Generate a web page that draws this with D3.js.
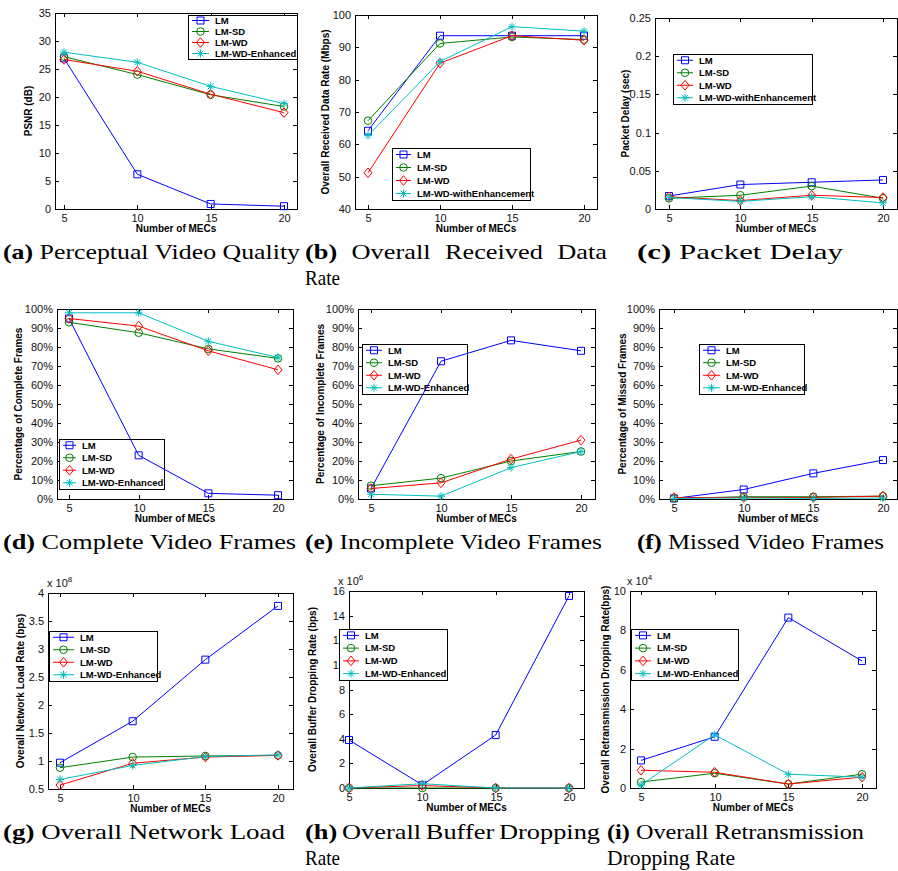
<!DOCTYPE html>
<html>
<head>
<meta charset="utf-8">
<script src="https://cdn.jsdelivr.net/npm/d3@7/dist/d3.min.js"></script>
<style>
  body { margin: 0; background: #fff; }
  text.sans { font-family: "Liberation Sans", Arial, sans-serif; }
  text.cap { font-family: "Liberation Serif", "Times New Roman", serif; }
</style>
</head>
<body>
<svg id="fig" width="898" height="871"></svg>
<script>
// ---- data ----
const mecs = [5, 10, 15, 20];
const namesEnh = ["LM", "LM-SD", "LM-WD", "LM-WD-Enhanced"];
const namesWith = ["LM", "LM-SD", "LM-WD", "LM-WD-withEnhancement"];

// rows: LM, LM-SD, LM-WD, LM-WD-Enhanced
const psnr = [
  [26.9, 6.2, 0.9, 0.5],
  [27.2, 24.0, 20.4, 18.3],
  [26.7, 24.6, 20.5, 17.2],
  [28.0, 26.2, 21.9, 18.8]
];
const recvRate = [
  [64.2, 93.6, 93.6, 93.6],
  [67.3, 91.2, 93.2, 92.4],
  [51.2, 85.1, 93.6, 92.2],
  [62.7, 85.6, 96.4, 95.0]
];
const pktDelay = [
  [0.017, 0.032, 0.035, 0.038],
  [0.014, 0.018, 0.030, 0.014],
  [0.016, 0.011, 0.018, 0.015],
  [0.015, 0.010, 0.016, 0.008]
];
const completePct = [
  [95, 23, 3, 2],
  [93, 87.5, 79, 74],
  [95, 91, 78, 68],
  [98, 98, 83, 74.5]
];
const incompletePct = [
  [5.5, 72.5, 83.5, 78],
  [7, 11, 20, 25],
  [5.5, 8.5, 21, 31],
  [2.5, 1.5, 16.5, 25]
];
const missedPct = [
  [0.3, 5, 13.5, 20.5],
  [0.3, 1.2, 1.2, 1.5],
  [0.8, 0.8, 0.8, 1.5],
  [0.3, 0.5, 0.3, 0.5]
];
const netLoad = [          // x 10^8 bps
  [0.97, 1.71, 2.81, 3.77],
  [0.88, 1.07, 1.09, 1.10],
  [0.57, 0.96, 1.07, 1.10],
  [0.67, 0.92, 1.08, 1.11]
];
const bufDrop = [          // x 10^6 bps
  [3.9, 0.25, 4.3, 15.6],
  [0, 0, 0, 0],
  [0, 0.2, 0, 0],
  [0, 0.35, 0, 0]
];
const retxDrop = [         // x 10^4 bps
  [1.4, 2.6, 8.65, 6.45],
  [0.3, 0.75, 0.2, 0.7],
  [0.9, 0.8, 0.2, 0.55],
  [0.15, 2.7, 0.7, 0.55]
];

const ticksPsnr = d3.range(0, 36, 5);
const ticksRecv = d3.range(40, 101, 10);
const ticksDelay = [0, 0.05, 0.1, 0.15, 0.2, 0.25];
const ticksPct = d3.range(0, 101, 10);
const ticksLoad = [0.5, 1, 1.5, 2, 2.5, 3, 3.5, 4];
const ticksBuf = d3.range(0, 17, 2);
const ticksRetx = d3.range(0, 11, 2);

// ---- styling ----
const colors = ["#0000ff", "#008000", "#ff0000", "#00bfbf"];
const markers = ["square", "circle", "diamond", "asterisk"];
const pct = d => d + "%";
const plain = d => String(d);

const panels = [
  { data: psnr, box: [55, 13, 297, 209], xr: [64, 284], yd: [0, 35], ticks: ticksPsnr, fmt: plain,
    ylab: "PSNR (dB)", ylx: 28, names: namesEnh, leg: [188, 15, 297, 59], legOff: 27 },
  { data: recvRate, box: [355, 15, 597, 209], xr: [368, 584], yd: [40, 100], ticks: ticksRecv, fmt: plain,
    ylab: "Overall Received Data Rate (Mbps)", ylx: 325, names: namesWith, leg: [392, 148, 530, 200], legOff: 25 },
  { data: pktDelay, box: [655, 18, 897, 209], xr: [669, 883], yd: [0, 0.25], ticks: ticksDelay, fmt: plain,
    ylab: "Packet Delay (sec)", ylx: 625, names: namesWith, leg: [673, 54, 812, 104], legOff: 26 },
  { data: completePct, box: [57, 309, 293, 499], xr: [69, 278], yd: [0, 100], ticks: ticksPct, fmt: pct,
    ylab: "Percentage of Complete Frames", ylx: 18, names: namesEnh, leg: [59, 439, 164, 489], legOff: 23 },
  { data: incompletePct, box: [358, 309, 595, 499], xr: [371, 581], yd: [0, 100], ticks: ticksPct, fmt: pct,
    ylab: "Percentage of Incomplete Frames", ylx: 320, names: namesEnh, leg: [362, 344, 467, 394], legOff: 26 },
  { data: missedPct, box: [659, 309, 897, 499], xr: [674, 883], yd: [0, 100], ticks: ticksPct, fmt: pct,
    ylab: "Percentage of Missed Frames", ylx: 622, names: namesEnh, leg: [699, 344, 804, 394], legOff: 27 },
  { data: netLoad, box: [48, 593, 293, 789], xr: [60, 278], yd: [0.5, 4], ticks: ticksLoad, fmt: plain,
    ylab: "Overall Network Load Rate (bps)", ylx: 20, names: namesEnh, leg: [49, 631, 157, 681], legOff: 31, exp: "8", expX: 47 },
  { data: bufDrop, box: [349, 591, 584, 788], xr: [349, 569], yd: [0, 16], ticks: ticksBuf, fmt: plain,
    ylab: "Overall Buffer Dropping Rate (bps)", ylx: 312, names: namesEnh, leg: [339, 629, 447, 680], legOff: 26, exp: "6", expX: 338 },
  { data: retxDrop, box: [630, 591, 876, 788], xr: [641, 862], yd: [0, 10], ticks: ticksRetx, fmt: plain,
    ylab: "Overall Retransmission Dropping Rate(bps)", ylx: 605, names: namesEnh, leg: [631, 629, 738, 680], legOff: 26, exp: "4", expX: 627 }
];

const captions = [
  { x: 3, y: 259, lines: [{ label: "(a)", text: "Perceptual Video Quality", w: 297 }] },
  { x: 305, y: 259, lines: [{ label: "(b)", text: "Overall Received Data", w: 302, justify: true }, { text: "Rate", w: 35 }] },
  { x: 637, y: 259, lines: [{ label: "(c)", text: "Packet Delay", w: 206 }] },
  { x: 3, y: 549, lines: [{ label: "(d)", text: "Complete Video Frames", w: 293 }] },
  { x: 305, y: 549, lines: [{ label: "(e)", text: "Incomplete Video Frames", w: 297 }] },
  { x: 637, y: 549, lines: [{ label: "(f)", text: "Missed Video Frames", w: 247 }] },
  { x: 3, y: 839, lines: [{ label: "(g)", text: "Overall Network Load", w: 282 }] },
  { x: 305, y: 839, lines: [{ label: "(h)", text: "Overall Buffer Dropping", w: 295, justify: true }, { text: "Rate", w: 35 }] },
  { x: 607, y: 839, lines: [{ label: "(i)", text: "Overall Retransmission", w: 257 }, { text: "Dropping Rate", w: 128 }] }
];

const svg = d3.select("#fig");

function drawMarker(g, type, x, y, color) {
  if (type === "circle") {
    g.append("circle").attr("cx", x).attr("cy", y).attr("r", 3.8)
      .attr("fill", "none").attr("stroke", color).attr("stroke-width", 1);
    return;
  }
  let d;
  if (type === "square") d = `M${x - 3.5},${y - 3.5}h7v7h-7Z`;
  else if (type === "diamond") d = `M${x},${y - 4.8}L${x + 4},${y}L${x},${y + 4.8}L${x - 4},${y}Z`;
  else d = `M${x - 4},${y}H${x + 4}M${x},${y - 4}V${y + 4}M${x - 2.9},${y - 2.9}L${x + 2.9},${y + 2.9}M${x - 2.9},${y + 2.9}L${x + 2.9},${y - 2.9}`;
  g.append("path").attr("d", d)
    .attr("fill", "none").attr("stroke", color).attr("stroke-width", 1);
}

function drawPanel(p) {
  const [l, t, r, b] = p.box;
  const g = svg.append("g");
  const x = d3.scaleLinear().domain([5, 20]).range(p.xr);
  const y = d3.scaleLinear().domain(p.yd).range([b, t]);

  // inward ticks on all four sides
  p.ticks.forEach(v => {
    const yy = Math.round(y(v)) + 0.5;
    g.append("path").attr("d", `M${l},${yy}h4M${r},${yy}h-4`).attr("stroke", "#000");
    g.append("text").attr("class", "sans").attr("x", l - 4).attr("y", yy).attr("dy", "0.35em")
      .attr("text-anchor", "end").attr("font-size", "11px").attr("fill", "#111")
      .text(p.fmt(v));
  });
  mecs.forEach(v => {
    const xx = Math.round(x(v)) + 0.5;
    g.append("path").attr("d", `M${xx},${b}v-4M${xx},${t}v4`).attr("stroke", "#000");
    g.append("text").attr("class", "sans").attr("x", xx).attr("y", b + 13)
      .attr("text-anchor", "middle").attr("font-size", "11px").attr("fill", "#111")
      .text(v);
  });

  g.append("text").attr("class", "sans").attr("x", (l + r) / 2).attr("y", b + 23)
    .attr("text-anchor", "middle").attr("font-size", "10px").attr("font-weight", "bold")
    .text("Number of MECs");

  g.append("text").attr("class", "sans")
    .attr("transform", `translate(${p.ylx},${(t + b) / 2}) rotate(-90)`)
    .attr("text-anchor", "middle").attr("dy", "0.35em")
    .attr("font-size", "10px").attr("font-weight", "bold")
    .text(p.ylab);

  if (p.exp) {
    const tx = g.append("text").attr("class", "sans").attr("x", p.expX).attr("y", t - 6)
      .attr("font-size", "11px").attr("fill", "#111");
    tx.append("tspan").text("x 10");
    tx.append("tspan").attr("dy", -5).attr("font-size", "8px").text(p.exp);
  }

  g.append("rect").attr("x", l + 0.5).attr("y", t + 0.5)
    .attr("width", r - l).attr("height", b - t)
    .attr("fill", "none").attr("stroke", "#000").attr("stroke-width", 1);

  // legend (the data lines are drawn over it, as in the reference)
  const [ll, lt, lr, lb] = p.leg;
  const lg = g.append("g");
  lg.append("rect").attr("x", ll + 0.5).attr("y", lt + 0.5)
    .attr("width", lr - ll).attr("height", lb - lt)
    .attr("fill", "#fff").attr("stroke", "#000").attr("stroke-width", 1);
  const step = (lb - lt) / 4;
  p.names.forEach((name, k) => {
    const yy = lt + step * (k + 0.5);
    const x0 = ll + 4, x1 = ll + p.legOff - 6;
    lg.append("path").attr("d", `M${x0},${yy}H${x1}`)
      .attr("stroke", colors[k]).attr("stroke-width", 1);
    drawMarker(lg, markers[k], (x0 + x1) / 2, yy, colors[k]);
    lg.append("text").attr("class", "sans").attr("x", ll + p.legOff).attr("y", yy).attr("dy", "0.35em")
      .attr("font-size", "9.5px").attr("font-weight", "bold").text(name);
  });

  const line = d3.line().x((d, i) => x(mecs[i])).y(d => y(d));
  p.data.forEach((s, k) => {
    g.append("path").datum(s).attr("d", line)
      .attr("fill", "none").attr("stroke", colors[k]).attr("stroke-width", 1);
    s.forEach((v, i) => drawMarker(g, markers[k], x(mecs[i]), y(v), colors[k]));
  });
}

panels.forEach(drawPanel);

// ---- sub-captions ----
// first pass: plain lines, fitted to the widths seen in the reference
const stretch = [];
captions.forEach(c => {
  c.lines.forEach((ln, li) => {
    if (ln.justify) return;
    const t = svg.append("text").attr("class", "cap").attr("x", c.x).attr("y", c.y + li * 26)
      .attr("font-size", "21px");
    if (ln.label) {
      t.append("tspan").attr("font-weight", "bold").text(ln.label);
      t.append("tspan").text(" " + ln.text);
      stretch.push(ln.w / t.node().getComputedTextLength());
    } else {
      t.text(ln.text);
    }
    t.attr("textLength", ln.w).attr("lengthAdjust", "spacingAndGlyphs");
  });
});
const sx = d3.mean(stretch);

// second pass: justified lines, words widened like the rest, gaps spread out
captions.forEach(c => {
  c.lines.forEach((ln, li) => {
    if (!ln.justify) return;
    const words = [ln.label].concat(ln.text.split(" "));
    const els = words.map((w, i) => svg.append("text").attr("class", "cap")
      .attr("y", c.y + li * 26).attr("font-size", "21px")
      .attr("font-weight", i === 0 ? "bold" : "normal").text(w));
    const widths = els.map(e => e.node().getComputedTextLength() * sx);
    const gap = (ln.w - d3.sum(widths)) / (words.length - 1);
    let cx = c.x;
    els.forEach((e, i) => {
      e.attr("x", cx).attr("textLength", widths[i]).attr("lengthAdjust", "spacingAndGlyphs");
      cx += widths[i] + gap;
    });
  });
});
</script>
</body>
</html>
